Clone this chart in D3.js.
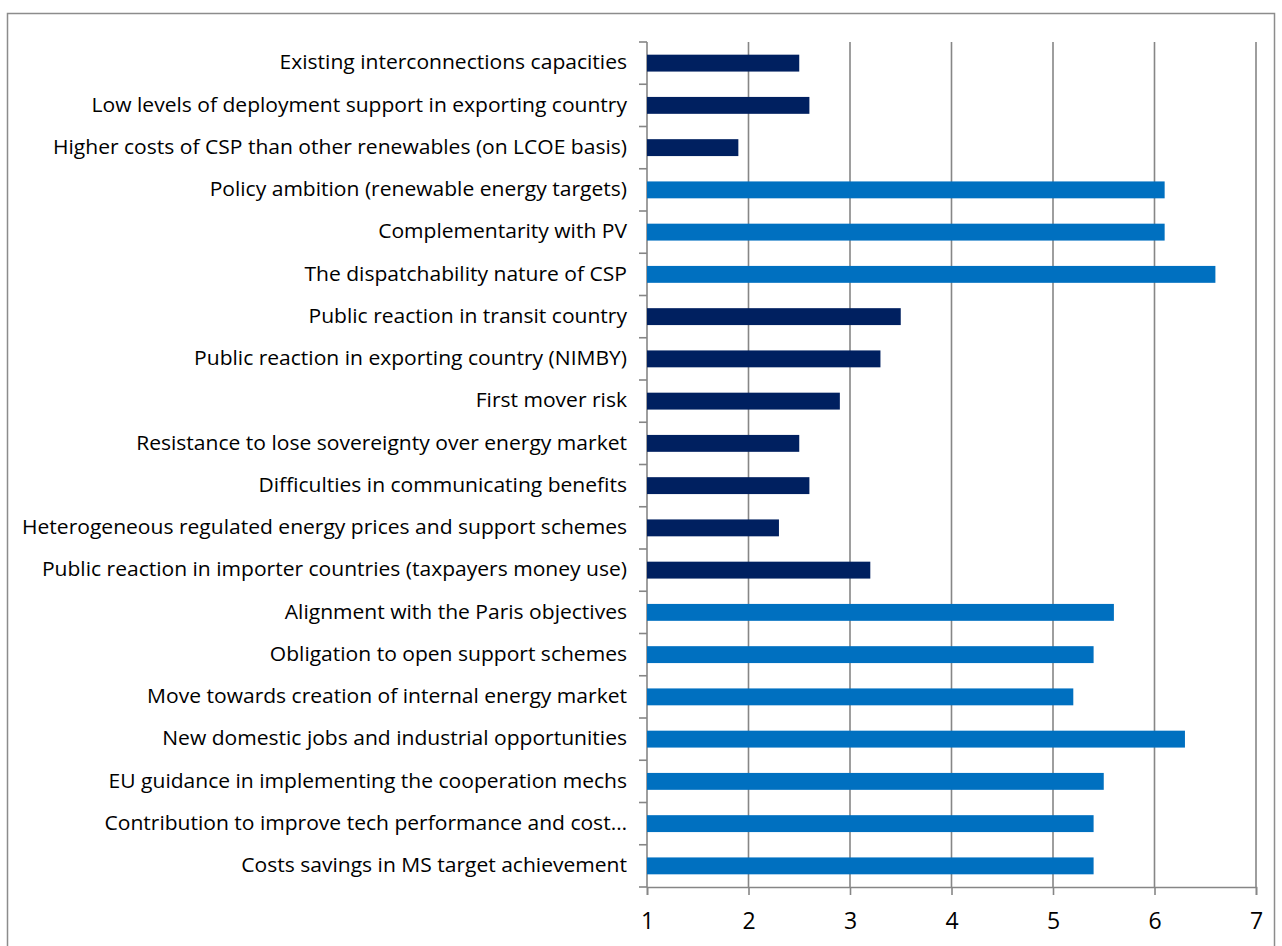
<!DOCTYPE html>
<html>
<head>
<meta charset="utf-8">
<script src="https://cdn.jsdelivr.net/npm/d3@7"></script>
<style>
  body { margin: 0; background: #fff; }
  svg { display: block; }
  text { font-family: "Open Sans", "Noto Sans", sans-serif; fill: #000; }
</style>
</head>
<body>
<div class="chart"></div>
<script>
// categories, top to bottom
const categories = [
  "Existing interconnections capacities",
  "Low levels of deployment support in exporting country",
  "Higher costs of CSP than other renewables (on LCOE basis)",
  "Policy ambition (renewable energy targets)",
  "Complementarity with PV",
  "The dispatchability nature of CSP",
  "Public reaction in transit country",
  "Public reaction in exporting country (NIMBY)",
  "First mover risk",
  "Resistance to lose sovereignty over energy market",
  "Difficulties in communicating benefits",
  "Heterogeneous regulated energy prices and support schemes",
  "Public reaction in importer countries (taxpayers money use)",
  "Alignment with the Paris objectives",
  "Obligation to open support schemes",
  "Move towards creation of internal energy market",
  "New domestic jobs and industrial opportunities",
  "EU guidance in implementing the cooperation mechs",
  "Contribution to improve tech performance and cost\u2026",
  "Costs savings in MS target achievement"
];
const values = [2.5, 2.6, 1.9, 6.1, 6.1, 6.6, 3.5, 3.3, 2.9, 2.5, 2.6, 2.3, 3.2, 5.6, 5.4, 5.2, 6.3, 5.5, 5.4, 5.4];
const groups = ["barrier", "barrier", "barrier", "driver", "driver", "driver", "barrier", "barrier", "barrier", "barrier",
                "barrier", "barrier", "barrier", "driver", "driver", "driver", "driver", "driver", "driver", "driver"];
const xTicks = [1, 2, 3, 4, 5, 6, 7];

const W = 1282, H = 946;
const margin = ({top: 42, right: 26, bottom: 59, left: 647});
const width = W - margin.left - margin.right, height = H - margin.top - margin.bottom;

const data = categories.map((c, i) => ({cat: c, value: values[i], group: groups[i]}));

var root = d3.select('.chart')
             .append('svg')
             .attr("width", W)
             .attr("height", H);

// outer frame
root.append("rect")
    .attr("x", 7.5).attr("y", 13.5)
    .attr("width", 1267).attr("height", 960)
    .attr("fill", "none")
    .attr("stroke", "#8c8c8c")
    .attr("stroke-width", 1.5);

var svg = root.append("g")
              .attr("transform", `translate(${margin.left},${margin.top})`);

var x = d3.scaleLinear()
          .domain([1, 7])
          .range([0, width]);

var y = d3.scaleBand()
          .domain(categories)
          .range([0, height])
          .paddingInner(0.6)
          .paddingOuter(0.3);

var color = d3.scaleOrdinal()
              .domain(["barrier", "driver"])
              .range(["#002060", "#0070C0"]);

// vertical gridlines
svg.append("g")
   .selectAll("line")
   .data(xTicks.slice(1))
   .join("line")
   .attr("x1", d => x(d)).attr("x2", d => x(d))
   .attr("y1", 0).attr("y2", height)
   .attr("stroke", "#868686")
   .attr("stroke-width", 1.6);

// x axis
const xAxis = d3.axisBottom(x)
                .tickValues(xTicks)
                .tickSize(8)
                .tickPadding(18)
                .tickFormat(d3.format("d"));

var gx = svg.append("g")
   .attr("class", "axis x-axis")
   .attr("transform", `translate(0, ${height})`)
   .call(xAxis);
gx.selectAll("line, path").attr("stroke", "#868686").attr("stroke-width", 1.6);
gx.selectAll("text").attr("font-size", 23).attr("fill", "#000");

// y axis: labels at band centres, ticks on band boundaries
const yAxis = d3.axisLeft(y)
                .tickSize(0)
                .tickPadding(20);

var gy = svg.append("g")
   .attr("class", "axis y-axis")
   .call(yAxis);
gy.select("path").remove();
gy.selectAll("text").attr("font-size", 19.5).attr("fill", "#000");

// squeeze the labels to a Calibri-like width
let maxW = 0;
gy.selectAll("text").each(function() { maxW = Math.max(maxW, this.getComputedTextLength()); });
const k = 605 / maxW;
gy.selectAll("text").each(function() {
  d3.select(this).attr("textLength", this.getComputedTextLength() * k)
                 .attr("lengthAdjust", "spacingAndGlyphs");
});

const bounds = d3.range(categories.length + 1).map(i => i * height / categories.length);
svg.append("g")
   .selectAll("line")
   .data(bounds)
   .join("line")
   .attr("x1", -8).attr("x2", 0)
   .attr("y1", d => d).attr("y2", d => d)
   .attr("stroke", "#868686")
   .attr("stroke-width", 1.6);

svg.append("line")
   .attr("x1", 0).attr("x2", 0)
   .attr("y1", 0).attr("y2", height)
   .attr("stroke", "#868686")
   .attr("stroke-width", 1.6);

// bars
svg.append("g")
   .selectAll("rect")
   .data(data)
   .join("rect")
   .attr("x", x(1))
   .attr("y", d => y(d.cat))
   .attr("width", d => x(d.value) - x(1))
   .attr("height", y.bandwidth())
   .attr("fill", d => color(d.group));
</script>
</body>
</html>
